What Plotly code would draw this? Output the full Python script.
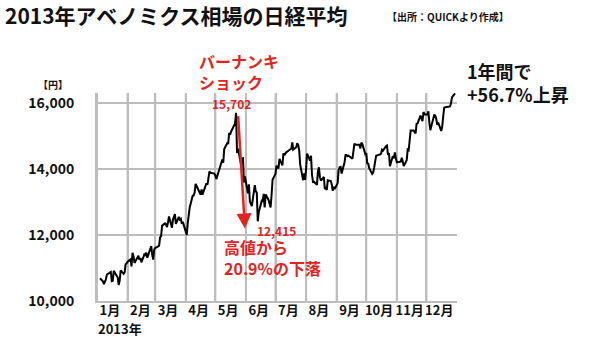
import plotly.graph_objects as go

# ---- data (Nikkei 225 closes, 2013) ----
dates = [
    "01-04","01-07","01-08","01-09","01-10","01-11","01-15","01-16","01-17","01-18","01-21","01-22","01-23","01-24","01-25","01-28","01-29","01-30","01-31",
    "02-01","02-04","02-05","02-06","02-07","02-08","02-12","02-13","02-14","02-15","02-18","02-19","02-20","02-21","02-22","02-25","02-26","02-27","02-28",
    "03-01","03-04","03-05","03-06","03-07","03-08","03-11","03-12","03-13","03-14","03-15","03-18","03-19","03-21","03-22","03-25","03-26","03-27","03-28","03-29",
    "04-01","04-02","04-03","04-04","04-05","04-08","04-09","04-10","04-11","04-12","04-15","04-16","04-17","04-18","04-19","04-22","04-23","04-24","04-25","04-26","04-30",
    "05-01","05-02","05-07","05-08","05-09","05-10","05-13","05-14","05-15","05-16","05-17","05-20","05-21","05-22","05-23","05-24","05-27","05-28","05-29","05-30","05-31",
    "06-03","06-04","06-05","06-06","06-07","06-10","06-11","06-12","06-13","06-14","06-17","06-18","06-19","06-20","06-21","06-24","06-25","06-26","06-27","06-28",
    "07-01","07-02","07-03","07-04","07-05","07-08","07-09","07-10","07-11","07-12","07-16","07-17","07-18","07-19","07-22","07-23","07-24","07-25","07-26","07-29","07-30","07-31",
    "08-01","08-02","08-05","08-06","08-07","08-08","08-09","08-12","08-13","08-14","08-15","08-16","08-19","08-20","08-21","08-22","08-23","08-26","08-27","08-28","08-29","08-30",
    "09-02","09-03","09-04","09-05","09-06","09-09","09-10","09-11","09-12","09-13","09-17","09-18","09-19","09-20","09-24","09-25","09-26","09-27","09-30",
    "10-01","10-02","10-03","10-04","10-07","10-08","10-09","10-10","10-11","10-15","10-16","10-17","10-18","10-21","10-22","10-23","10-24","10-25","10-28","10-29","10-30","10-31",
    "11-01","11-05","11-06","11-07","11-08","11-11","11-12","11-13","11-14","11-15","11-18","11-19","11-20","11-21","11-22","11-25","11-26","11-27","11-28","11-29",
    "12-02","12-03","12-04","12-05","12-06","12-09","12-10","12-11","12-12","12-13","12-16","12-17","12-18","12-19","12-20","12-24","12-25","12-26","12-27","12-30",
]
closes = [
    10688,10599,10508,10578,10652,10801,10879,10600,10610,10913,10747,10709,10487,10620,10926,10824,10866,11113,11138,
    11191,11260,11046,11463,11357,11153,11369,11251,11307,11173,11408,11372,11468,11309,11385,11662,11399,11254,11559,
    11606,11652,11683,11932,11968,12283,12349,12314,12239,12381,12560,12220,12468,12635,12338,12546,12471,12493,12336,12397,
    12135,12003,12362,12634,12833,13192,13193,13288,13549,13485,13275,13221,13382,13220,13316,13568,13529,13843,13926,13884,13860,
    13799,13694,14180,14285,14191,14607,14782,14758,15096,15037,15138,15360,15381,15702,14483,14612,14142,14311,14326,13589,13774,
    13261,13534,13014,12904,12877,13514,13317,13289,12415,12686,13033,13007,13245,12834,13230,13062,12969,12834,13213,13677,
    13852,14099,14055,14018,14309,14109,14472,14416,14472,14506,14599,14615,14808,14589,14658,14778,14731,14562,14129,13661,13869,13668,
    14005,14466,14258,14401,13825,13605,13615,13519,13925,14050,13752,13650,13758,13397,13424,13366,13660,13636,13542,13338,13459,13389,
    13573,13978,14053,14065,13861,14205,14423,14425,14387,14405,14312,14505,14766,14742,14733,14620,14799,14760,14455,
    14485,14170,14157,14024,13853,13894,14037,14194,14404,14441,14467,14586,14561,14693,14713,14426,14486,14088,14396,14325,14502,14327,
    14201,14225,14337,14228,14086,14269,14588,14567,14876,15165,15164,15126,15076,15365,15381,15619,15515,15449,15727,15661,
    15655,15749,15407,15177,15299,15650,15611,15515,15341,15403,15152,15279,15586,15859,15870,15889,15895,16009,16178,16291,
]
month_labels = ["1月","2月","3月","4月","5月","6月","7月","8月","9月","10月","11月","12月"]
y_ticks = [10000, 12000, 14000, 16000]
peak_value = 15702
trough_value = 12415

x = ["2013-" + d for d in dates]
month_starts = [f"2013-{m:02d}-01" for m in range(1, 13)]
month_mids = [f"2013-{m:02d}-14" for m in range(1, 13)]

FONT = "Noto Sans CJK JP"
RED = "#e2231f"
GRID = "#bdbdbd"
XRANGE = ["2013-01-01", "2014-01-01"]

fig = go.Figure()
fig.add_trace(go.Scatter(x=x, y=closes, mode="lines",
                         line=dict(color="#000000", width=2), hoverinfo="skip"))
# invisible trace carrying the month-label axis
fig.add_trace(go.Scatter(x=month_mids, y=[None]*12, xaxis="x2", mode="lines",
                         hoverinfo="skip", showlegend=False))

# vertical month gridlines
for d in month_starts:
    fig.add_shape(type="line", xref="x", yref="paper", x0=d, x1=d, y0=0, y1=1,
                  line=dict(color=GRID, width=2), layer="below")

fig.update_layout(
    width=600, height=337, autosize=False,
    margin=dict(l=97, r=143, t=93, b=36),
    paper_bgcolor="white", plot_bgcolor="white",
    showlegend=False,
    font=dict(family=FONT, color="#111111"),
    title=dict(text="<b>2013年アベノミクス相場の日経平均</b>",
               font=dict(family=FONT, size=21, color="#111111"),
               x=5/600, xanchor="left", xref="container",
               y=1-17/337, yanchor="middle", yref="container"),
    xaxis=dict(
        type="date", range=XRANGE, automargin=False,
        tickmode="array", tickvals=month_starts, showticklabels=False,
        ticks="", showgrid=True, gridcolor=GRID, gridwidth=2, zeroline=False,
        showline=True, linecolor=GRID, linewidth=2,
    ),
    xaxis2=dict(
        type="date", range=XRANGE, overlaying="x", anchor="y", side="bottom",
        automargin=False, tickmode="array", tickvals=month_mids,
        ticktext=[f"<b>{m}</b>" for m in month_labels], tickangle=0,
        tickfont=dict(family=FONT, size=13, color="#111111"),
        ticks="",
        showgrid=False, zeroline=False, showline=False,
    ),
    yaxis=dict(
        range=[10000, 16303], automargin=False, tickmode="array", tickvals=y_ticks,
        ticktext=[f"<b>{v:,}</b>" for v in y_ticks],
        tickfont=dict(family=FONT, size=14, color="#111111"),
        ticks="outside", ticklen=18, tickcolor="rgba(0,0,0,0)",
        showgrid=True, gridcolor=GRID, gridwidth=2, zeroline=False,
        showline=True, linecolor=GRID, linewidth=2,
    ),
)

def px_x(p):
    return (p - 97) / 360

def px_y(p):
    return (301 - p) / 208

ann = [
    dict(text="<b>【出所：QUICKより作成】</b>", x=px_x(385), y=px_y(16.5),
         xanchor="left", yanchor="middle", font=dict(size=10, color="#111111")),
    dict(text="<b>【円】</b>", x=px_x(53), y=px_y(85),
         xanchor="center", yanchor="middle", font=dict(size=10, color="#111111")),
    dict(text="<b>2013年</b>", x=px_x(96), y=px_y(328),
         xanchor="left", yanchor="middle", font=dict(size=13, color="#111111")),
    dict(text="<b>バーナンキ<br>ショック</b>", x=px_x(197), y=px_y(72),
         xanchor="left", yanchor="middle", align="left", font=dict(size=16, color=RED)),
    dict(text=f"<b>{peak_value:,}</b>", x=px_x(231), y=px_y(103),
         xanchor="center", yanchor="middle", font=dict(size=12, color=RED)),
    dict(text=f"<b>{trough_value:,}</b>", x=px_x(255), y=px_y(230),
         xanchor="left", yanchor="middle", font=dict(size=12, color=RED)),
    dict(text="<b>高値から<br>20.9%の下落</b>", x=px_x(222), y=px_y(257),
         xanchor="left", yanchor="middle", align="left", font=dict(size=16, color=RED)),
    dict(text="<b>1年間で<br>+56.7%上昇</b>", x=px_x(465), y=px_y(82.5),
         xanchor="left", yanchor="middle", align="left", font=dict(size=18, color="#111111")),
]
for a in ann:
    a.update(xref="paper", yref="paper", showarrow=False, font=dict(family=FONT, **a["font"]))
    fig.add_annotation(**a)

# drop arrow from peak to trough
fig.add_annotation(x="2013-05-31", y=12200, ax="2013-05-24", ay=15650,
                   xref="x", yref="y", axref="x", ayref="y", text="",
                   showarrow=True, arrowhead=2, arrowsize=1.2, arrowwidth=2.5,
                   arrowcolor=RED)

fig.write_html("out.html")
